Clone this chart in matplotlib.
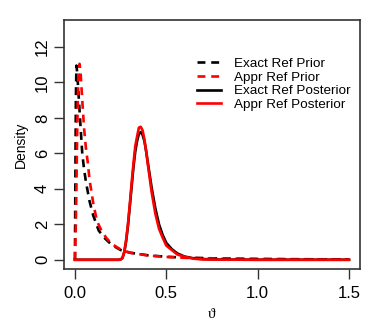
import numpy as np
import matplotlib
matplotlib.use("Agg")
import matplotlib.pyplot as plt

plt.rcParams['font.family'] = ['Liberation Sans', 'DejaVu Sans']

# exact reference prior (black dashed)
prior_exact_x = [0, 0.002, 0.005, 0.008, 0.012, 0.02, 0.03, 0.04, 0.05, 0.06, 0.08,
                 0.1, 0.13, 0.16, 0.2, 0.25, 0.3, 0.4, 0.5, 0.6, 0.8, 1.0, 1.2, 1.5]
prior_exact_y = [0, 4, 9, 10.95, 10.6, 9.3, 7.6, 6.0, 5.1, 4.4, 3.3,
                 2.5, 1.65, 1.25, 0.85, 0.55, 0.4, 0.25, 0.17, 0.12, 0.07, 0.045, 0.03, 0.02]

# approximate reference prior (red dashed)
prior_appr_x = [0, 0.004, 0.008, 0.012, 0.016, 0.02, 0.025, 0.03, 0.04, 0.05, 0.06, 0.07,
                0.08, 0.1, 0.12, 0.14, 0.17, 0.2, 0.25, 0.3, 0.4, 0.5, 0.6, 0.8, 1.0, 1.2, 1.5]
prior_appr_y = [0, 1.5, 4, 7, 9.3, 10.6, 11.05, 10.7, 9.0, 7.4, 6.3, 5.5,
                4.5, 3.2, 2.2, 1.75, 1.25, 0.9, 0.58, 0.4, 0.24, 0.16, 0.11, 0.06, 0.04, 0.03, 0.02]

# posteriors (shared grid)
post_x = [0, 0.24, 0.25, 0.26, 0.27, 0.28, 0.29, 0.30, 0.31, 0.32, 0.33, 0.34, 0.35,
          0.36, 0.37, 0.38, 0.39, 0.40, 0.42, 0.44, 0.46, 0.48, 0.50, 0.53, 0.56,
          0.60, 0.65, 0.7, 0.8, 1.0, 1.5]
post_exact_y = [0, 0, 0.02, 0.1, 0.42, 1.05, 1.9, 3.0, 4.1, 5.2, 6.1, 6.7, 7.1,
                7.2, 7.05, 6.7, 6.1, 5.4, 4.05, 2.9, 2.0, 1.4, 0.95, 0.6, 0.36,
                0.18, 0.08, 0.04, 0.01, 0, 0]
post_appr_y = [0, 0, 0.02, 0.1, 0.45, 1.1, 2.0, 3.1, 4.3, 5.4, 6.4, 6.95, 7.45,
               7.5, 7.3, 6.8, 6.1, 5.3, 3.8, 2.6, 1.75, 1.25, 0.8, 0.55, 0.3,
               0.17, 0.06, 0.02, 0.005, 0, 0]

fig = plt.figure(figsize=(3.82, 3.27), dpi=100)
ax = fig.add_axes([0.1675, 0.1774, 0.7749, 0.7614])

lw = 1.9
dash = (3, 2.2)
ax.plot(prior_exact_x, prior_exact_y, color='black', lw=lw, dashes=dash, label='Exact Ref Prior')
ax.plot(prior_appr_x, prior_appr_y, color='red', lw=lw, dashes=dash, label='Appr Ref Prior')
ax.plot(post_x, post_exact_y, color='black', lw=lw, label='Exact Ref Posterior')
ax.plot(post_x, post_appr_y, color='red', lw=lw, label='Appr Ref Posterior')

ax.set_xlim(-0.06, 1.56)
ax.set_ylim(-0.52, 13.52)
ax.set_xticks([0.0, 0.5, 1.0, 1.5])
ax.set_xticklabels(['0.0', '0.5', '1.0', '1.5'])
ax.set_yticks([0, 2, 4, 6, 8, 10, 12])
ax.tick_params(axis='both', length=7, width=1, color='#333333', labelsize=12, direction='out')
ax.tick_params(axis='y', labelrotation=90, pad=3)
for lab in ax.get_yticklabels():
    lab.set_verticalalignment('center')
ax.tick_params(axis='x', pad=5)
for s in ax.spines.values():
    s.set_linewidth(1.2)
    s.set_color('#333333')

ax.set_ylabel('Density', fontsize=10, labelpad=5)
ax.set_xlabel('ϑ', fontsize=11, labelpad=5, family=['Liberation Serif', 'DejaVu Serif'])

ax.legend(loc='upper left', bbox_to_anchor=(0.448, 0.85), frameon=False,
          fontsize=9.7, borderpad=0, borderaxespad=0, handlelength=1.8,
          handletextpad=1.0, labelspacing=0.1)

fig.savefig('out.png', dpi=100)
